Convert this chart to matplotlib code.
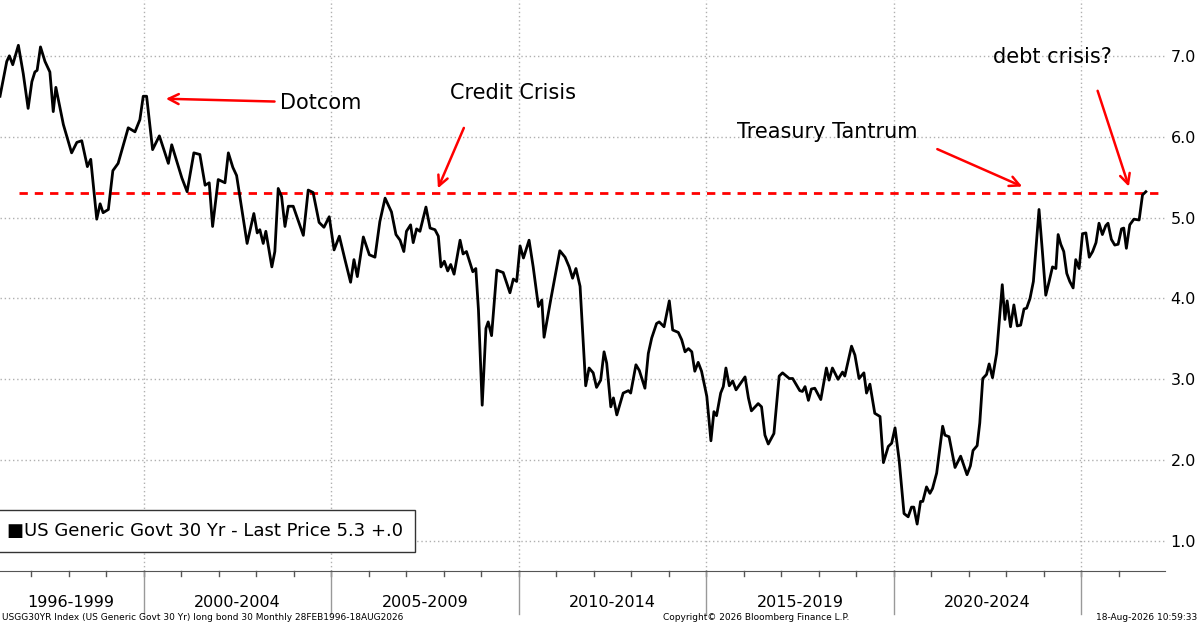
import numpy as np
import matplotlib
matplotlib.use("Agg")
import matplotlib.pyplot as plt

# US Generic Govt 30 Yr (decimal year, yield %)
t = [1996.16, 1996.34, 1996.41, 1996.50, 1996.65, 1996.78, 1996.91, 1997.01, 1997.09, 1997.15,
     1997.24, 1997.36, 1997.49, 1997.58, 1997.65, 1997.85, 1998.07, 1998.21, 1998.34, 1998.49,
     1998.58, 1998.74, 1998.83, 1998.91, 1999.05, 1999.17, 1999.31, 1999.58, 1999.76, 1999.89,
     1999.98, 2000.07, 2000.23, 2000.41, 2000.65, 2000.74, 2001.01, 2001.15, 2001.33, 2001.49,
     2001.63, 2001.74, 2001.83, 2001.98, 2002.16, 2002.25, 2002.37, 2002.47, 2002.75, 2002.93,
     2003.02, 2003.09, 2003.18, 2003.25, 2003.41, 2003.49, 2003.58, 2003.67, 2003.76, 2003.85,
     2003.98, 2004.25, 2004.38, 2004.51, 2004.67, 2004.80, 2004.94, 2005.07, 2005.21, 2005.36,
     2005.51, 2005.60, 2005.69, 2005.85, 2006.01, 2006.16, 2006.29, 2006.43, 2006.60, 2006.72,
     2006.83, 2006.93, 2007.00, 2007.11, 2007.18, 2007.27, 2007.36, 2007.52, 2007.63, 2007.76,
     2007.85, 2007.92, 2008.01, 2008.10, 2008.18, 2008.27, 2008.43, 2008.51, 2008.60, 2008.77,
     2008.85, 2008.92, 2009.02, 2009.12, 2009.18, 2009.27, 2009.41, 2009.58, 2009.76, 2009.85,
     2009.94, 2010.03, 2010.12, 2010.27, 2010.38, 2010.52, 2010.61, 2010.67, 2010.85, 2011.09,
     2011.23, 2011.34, 2011.43, 2011.52, 2011.63, 2011.78, 2011.87, 2011.98, 2012.07, 2012.18,
     2012.27, 2012.34, 2012.45, 2012.52, 2012.61, 2012.78, 2012.92, 2012.98, 2013.12, 2013.21,
     2013.36, 2013.45, 2013.54, 2013.67, 2013.74, 2013.87, 2014.01, 2014.10, 2014.25, 2014.34,
     2014.43, 2014.52, 2014.61, 2014.69, 2014.78, 2014.87, 2015.01, 2015.12, 2015.20, 2015.27,
     2015.38, 2015.45, 2015.52, 2015.61, 2015.70, 2015.79, 2016.03, 2016.12, 2016.20, 2016.38,
     2016.47, 2016.56, 2016.65, 2016.80, 2016.94, 2017.03, 2017.21, 2017.30, 2017.49, 2017.56,
     2017.63, 2017.72, 2017.80, 2017.89, 2018.05, 2018.20, 2018.27, 2018.36, 2018.51, 2018.63,
     2018.69, 2018.87, 2018.96, 2019.07, 2019.20, 2019.27, 2019.36, 2019.49, 2019.63, 2019.72,
     2019.85, 2019.94, 2020.03, 2020.14, 2020.27, 2020.38, 2020.47, 2020.53, 2020.62, 2020.71,
     2020.77, 2020.87, 2020.96, 2021.03, 2021.14, 2021.30, 2021.36, 2021.47, 2021.63, 2021.78,
     2021.95, 2022.04, 2022.11, 2022.22, 2022.29, 2022.37, 2022.47, 2022.54, 2022.63, 2022.74,
     2022.81, 2022.89, 2022.96, 2023.02, 2023.11, 2023.20, 2023.29, 2023.38, 2023.47, 2023.54,
     2023.63, 2023.72, 2023.87, 2023.96, 2024.05, 2024.14, 2024.23, 2024.32, 2024.38, 2024.45,
     2024.53, 2024.61, 2024.69, 2024.78, 2024.85, 2024.94, 2025.03, 2025.12, 2025.21, 2025.30,
     2025.39, 2025.47, 2025.56, 2025.65, 2025.71, 2025.80, 2025.89, 2025.98, 2026.07, 2026.13,
     2026.20, 2026.29, 2026.40, 2026.54, 2026.63, 2026.72]
y = [6.50, 6.93, 7.00, 6.89, 7.13, 6.78, 6.35, 6.68, 6.80, 6.82,
     7.11, 6.93, 6.80, 6.31, 6.61, 6.15, 5.80, 5.93, 5.95, 5.63,
     5.72, 4.98, 5.17, 5.06, 5.10, 5.58, 5.67, 6.11, 6.06, 6.21,
     6.50, 6.50, 5.84, 6.01, 5.67, 5.90, 5.49, 5.32, 5.80, 5.78,
     5.40, 5.43, 4.89, 5.47, 5.43, 5.80, 5.62, 5.52, 4.68, 5.05,
     4.81, 4.85, 4.68, 4.83, 4.39, 4.58, 5.36, 5.26, 4.89, 5.14,
     5.14, 4.78, 5.34, 5.31, 4.94, 4.88, 5.01, 4.60, 4.77, 4.48,
     4.20, 4.48, 4.27, 4.76, 4.54, 4.51, 4.95, 5.24, 5.07, 4.79,
     4.72, 4.58, 4.83, 4.91, 4.69, 4.86, 4.83, 5.13, 4.87, 4.85,
     4.77, 4.39, 4.46, 4.34, 4.42, 4.30, 4.72, 4.55, 4.58, 4.33,
     4.37, 3.86, 2.68, 3.63, 3.71, 3.54, 4.35, 4.32, 4.07, 4.24,
     4.21, 4.65, 4.50, 4.72, 4.39, 3.90, 3.98, 3.52, 3.99, 4.59,
     4.51, 4.39, 4.25, 4.37, 4.15, 2.92, 3.14, 3.08, 2.90, 2.99,
     3.34, 3.20, 2.66, 2.77, 2.56, 2.83, 2.86, 2.83, 3.18, 3.11,
     2.89, 3.32, 3.51, 3.69, 3.71, 3.65, 3.97, 3.61, 3.58, 3.49,
     3.34, 3.38, 3.34, 3.10, 3.21, 3.10, 2.79, 2.24, 2.60, 2.55,
     2.83, 2.91, 3.14, 2.92, 2.98, 2.87, 3.03, 2.77, 2.61, 2.70,
     2.66, 2.31, 2.20, 2.33, 3.04, 3.08, 3.01, 3.01, 2.86, 2.85,
     2.91, 2.74, 2.88, 2.89, 2.75, 3.14, 2.99, 3.14, 3.00, 3.09,
     3.04, 3.41, 3.30, 3.01, 3.08, 2.83, 2.94, 2.58, 2.54, 1.97,
     2.17, 2.21, 2.40, 2.00, 1.34, 1.30, 1.42, 1.42, 1.21, 1.49,
     1.49, 1.67, 1.59, 1.65, 1.84, 2.42, 2.31, 2.29, 1.91, 2.05,
     1.82, 1.93, 2.12, 2.18, 2.46, 3.01, 3.06, 3.19, 3.02, 3.32,
     3.71, 4.17, 3.74, 3.97, 3.65, 3.92, 3.66, 3.67, 3.87, 3.88,
     4.00, 4.21, 5.10, 4.58, 4.04, 4.21, 4.39, 4.37, 4.79, 4.67,
     4.58, 4.31, 4.21, 4.13, 4.48, 4.37, 4.80, 4.81, 4.51, 4.58,
     4.69, 4.93, 4.79, 4.90, 4.93, 4.73, 4.66, 4.67, 4.86, 4.87,
     4.62, 4.91, 4.98, 4.97, 5.28, 5.32]

level = 5.3
y_ticks = [1.0, 2.0, 3.0, 4.0, 5.0, 6.0, 7.0]
groups = ["1996-1999", "2000-2004", "2005-2009", "2010-2014", "2015-2019", "2020-2024"]
group_edges = [1996, 2000, 2005, 2010, 2015, 2020, 2025]

font = "DejaVu Sans"
plt.rcParams['font.family'] = font

fig = plt.figure(figsize=(12, 6.27), dpi=100)
ax = fig.add_axes([0, 1 - 571 / 627, 1165 / 1200, 571 / 627])
x0, x1 = 1996.16, 2027.23
ax.set_xlim(x0, x1)
ax.set_ylim(0.63, 7.69)

for v in y_ticks:
    ax.axhline(v, color="#b0b0b0", lw=1, ls=(0, (1, 2)), zorder=0)
for e in group_edges[1:]:
    ax.axvline(e, color="#b0b0b0", lw=1, ls=(0, (1, 2)), zorder=0)

ax.plot(t, y, color="black", lw=2, zorder=3)
ax.hlines(level, 1996.67, x1, colors="red", lw=2, ls=(0, (3, 2.5)), zorder=2)

ax.yaxis.tick_right()
ax.set_yticks(y_ticks)
ax.set_yticklabels([f"{v:.1f}" for v in y_ticks], fontsize=11.5)
ax.tick_params(axis="y", length=0, pad=4)
ax.set_xticks([])
for s in ["top", "right", "left"]:
    ax.spines[s].set_visible(False)
ax.spines["bottom"].set_color("#555555")

# bottom band: yearly ticks, group dividers, group labels
years = np.arange(1997, 2027)
trans = ax.get_xaxis_transform()
for yr in years:
    ax.plot([yr, yr], [0, -0.008], transform=trans, color="#555555", lw=1, clip_on=False)
for e in group_edges[1:]:
    ax.plot([e, e], [0, -0.075], transform=trans, color="#999999", lw=1, clip_on=False)
for i, g in enumerate(groups):
    mid = (max(group_edges[i], x0) + group_edges[i + 1]) / 2
    if i == 0:
        mid = 1998.05
    ax.text(mid, -0.055, g, transform=trans, ha="center", va="center", fontsize=11.5, clip_on=False)

# legend box
ax.text(0.006, 0.07, "\u25a0US Generic Govt 30 Yr - Last Price 5.3 +.0", transform=ax.transAxes,
        fontsize=13, va="center", ha="left",
        bbox=dict(boxstyle="square,pad=0.65", fc="white", ec="#333333", lw=1))

arrow = dict(arrowstyle="->", color="red", lw=1.8, mutation_scale=18)
ax.annotate("Dotcom", xy=(2000.51, 6.47), xytext=(2003.63, 6.42), fontsize=15,
            va="center", ha="left", arrowprops=arrow)
ax.annotate("", xy=(2007.81, 5.33), xytext=(2008.56, 6.14), arrowprops=arrow)
ax.text(2008.16, 6.54, "Credit Crisis", fontsize=15, va="center", ha="left")
ax.annotate("", xy=(2023.49, 5.37), xytext=(2021.09, 5.86), arrowprops=arrow)
ax.text(2015.81, 6.06, "Treasury Tantrum", fontsize=15, va="center", ha="left")
ax.annotate("", xy=(2026.29, 5.35), xytext=(2025.41, 6.60), arrowprops=arrow)
ax.text(2022.64, 6.98, "debt crisis?", fontsize=15, va="center", ha="left")

fig.text(0.002, 0.008, "USGG30YR Index (US Generic Govt 30 Yr) long bond 30 Monthly 28FEB1996-18AUG2026",
         fontsize=6.5, ha="left", va="bottom")
fig.text(0.63, 0.008, "Copyright\u00a9 2026 Bloomberg Finance L.P.", fontsize=6.5, ha="center", va="bottom")
fig.text(0.998, 0.008, "18-Aug-2026 10:59:33", fontsize=6.5, ha="right", va="bottom")

fig.savefig("out.png", dpi=100, facecolor="white")
